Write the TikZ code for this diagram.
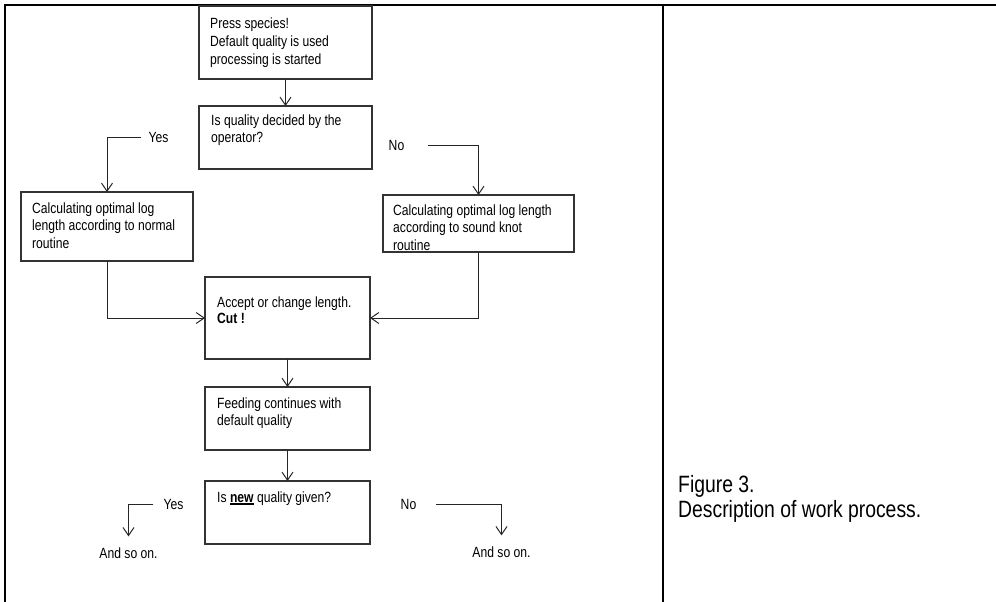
\documentclass[tikz,border=0pt]{standalone}
\usepackage{fontspec}
\setmainfont{Liberation Sans}[FakeStretch=0.82]
\usetikzlibrary{arrows.meta}
% thick underline used for emphasised words
\newcommand\ulnew[1]{\setbox0\hbox{#1}\rlap{\rule[-2.4pt]{\wd0}{1.5pt}}\box0\relax}
\begin{document}
\begin{tikzpicture}[x=1pt,y=-1pt,
  frame/.style={line width=2.8pt,black,line join=miter},
  box/.style={draw=black!80,line width=1.1pt,anchor=north west,inner sep=0pt,outer sep=0pt},
  txt/.style={anchor=north west,inner sep=0pt,align=left,font=\fontsize{14.8}{17.5}\selectfont},
  lbl/.style={inner sep=0pt,font=\fontsize{14.8}{17.5}\selectfont},
  flow/.style={draw=black!85,line width=1pt,-{Straight Barb[length=8pt,width=11pt]}},
]
\useasboundingbox (0,0) rectangle (996,602);

% page frame and column divider
\draw[frame] (5,602) -- (5,5) -- (996,5);
\draw[frame] (663,5) -- (663,602);

% process boxes
\node[box,minimum width=173pt,minimum height=73pt] (b1) at (199,6) {};
\node[box,minimum width=173pt,minimum height=63pt] (b2) at (199,106) {};
\node[box,minimum width=172pt,minimum height=69pt] (b3) at (21,192) {};
\node[box,minimum width=191pt,minimum height=57pt] (b4) at (383,195) {};
\node[box,minimum width=165pt,minimum height=82pt] (b5) at (205,277) {};
\node[box,minimum width=165pt,minimum height=63pt] (b6) at (205,387) {};
\node[box,minimum width=165pt,minimum height=63pt] (b7) at (205,481) {};

% box texts
\node[txt] (t1) at (210,17.5) {Press species!\\[0.8pt]Default quality is used\\processing is started};
\node[txt] (t2) at (211,114.5) {Is quality decided by the\\operator?};
\node[txt] (t3) at (32,202.5) {Calculating optimal log\\length according to normal\\routine};
\node[txt] (t4) at (393,204.5) {Calculating optimal log length\\according to sound knot\\routine};
\node[txt] (t5) at (217,297) {Accept or change length.\\[-2pt]\textbf{Cut !}};
\node[txt] (t6) at (217,397.5) {Feeding continues with\\default quality};
\node[txt] (t7) at (217,491.5) {Is \ulnew{\textbf{new}} quality given?};

% branch labels
\node[lbl] (yes1) at (158.5,137) {Yes};
\node[lbl] (no1) at (396.5,145) {No};
\node[lbl] (yes2) at (173.5,504) {Yes};
\node[lbl] (no2) at (408.5,504) {No};
\node[lbl] (and1) at (128.5,553) {And so on.};
\node[lbl] (and2) at (501.5,552) {And so on.};

% connectors
\draw[flow] (b1.south) -- (b2.north);
\draw[flow] ([xshift=-7pt]yes1.west) -| (b3.north);
\draw[flow] ([xshift=24pt]no1.east) -| (b4.north);
\draw[flow] (b3.south) |- (b5.west);
\draw[flow] (b4.south) |- (b5.east);
\draw[flow] (b5.south) -- (b6.north);
\draw[flow] (b6.south) -- (b7.north);
\draw[flow] ([xshift=-10pt]yes2.west) -| ([yshift=11pt]and1.north);
\draw[flow] ([xshift=20pt]no2.east) -| ([yshift=11pt]and2.north);

% caption
\node[anchor=north west,inner sep=0pt,align=left,font=\fontsize{23.6}{25}\selectfont] (cap) at (678,475) {Figure 3.\\Description of work process.};
\end{tikzpicture}
\end{document}
